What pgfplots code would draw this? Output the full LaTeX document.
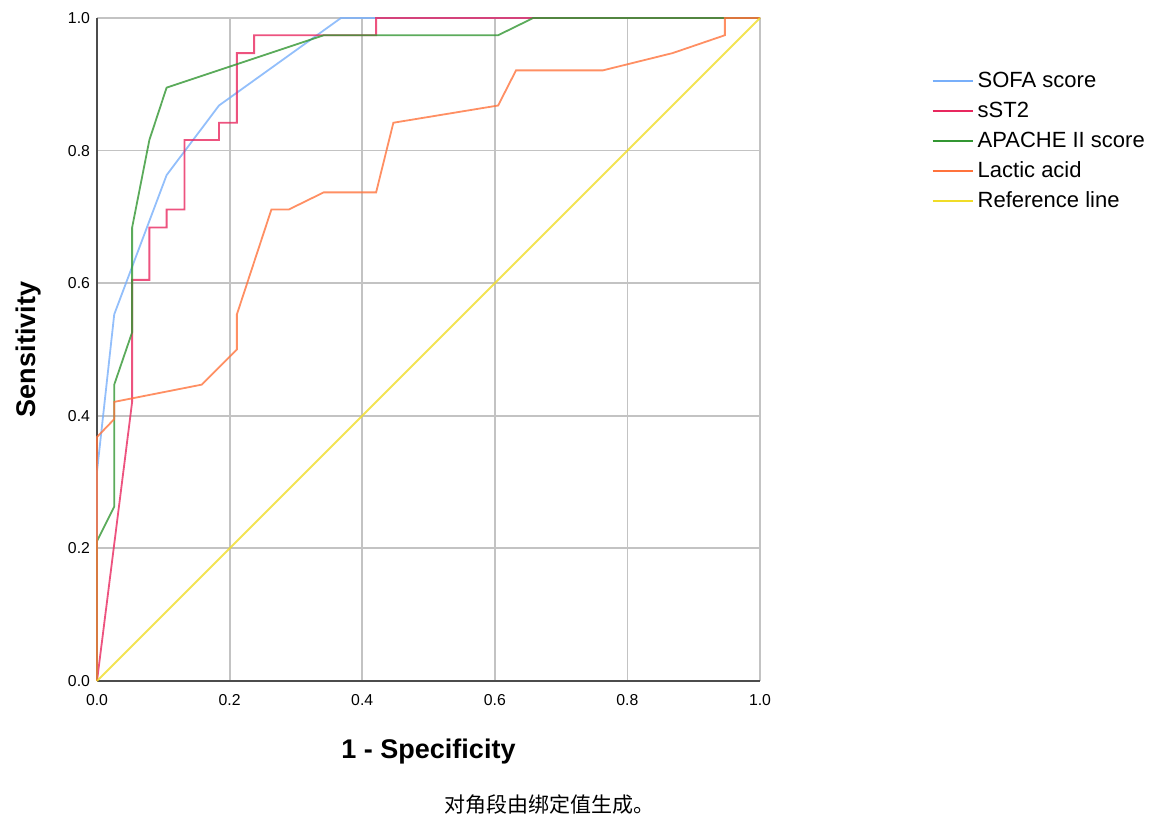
\documentclass[border=0pt]{standalone}
\usepackage{fontspec}
\setmainfont{Liberation Sans}
\newfontfamily\cjk{Noto Sans CJK SC}
\usepackage{pgfplots}
\pgfplotsset{compat=1.18}

\definecolor{sofa}{RGB}{120,175,250}
\definecolor{sst}{RGB}{232,40,95}
\definecolor{apache}{RGB}{50,150,50}
\definecolor{lactic}{RGB}{255,115,60}
\definecolor{refl}{RGB}{240,220,40}
\definecolor{gridc}{RGB}{195,195,195}

\begin{document}
\begin{tikzpicture}
\useasboundingbox (-48.5pt,-71pt) rectangle (536.5pt,340.5pt);
\begin{axis}[
    width=331.5pt, height=331.5pt, scale only axis,
    xmin=0, xmax=1, ymin=0, ymax=1,
    xtick={0,0.2,...,1}, ytick={0,0.2,...,1},
    xticklabel style={yshift=-3pt, /pgf/number format/.cd, fixed, fixed zerofill, precision=1},
    yticklabel style={/pgf/number format/.cd, fixed, fixed zerofill, precision=1},
    /pgf/number format/assume math mode=true,
    ticklabel style={font=\fontsize{7.9}{9}\selectfont},
    tick style={draw=none},
    grid=major,
    grid style={gridc, line width=0.9pt},
    axis line style={gray!60!black, line width=0.9pt},
    axis x line*=bottom, axis y line*=left,
    xlabel={1 - Specificity}, ylabel={Sensitivity},
    label style={font=\fontsize{13.5}{15}\selectfont\bfseries},
    xlabel style={at={(axis description cs:0.5,-0.107)}, anchor=center},
    ylabel style={at={(axis description cs:-0.104,0.5)}, anchor=center},
    legend style={at={(axis description cs:1.249,0.931)}, anchor=north west,
        draw=none, fill=none, font=\fontsize{11}{12}\selectfont,
        row sep=1.7pt, legend cell align=left},
    legend image code/.code={\draw[#1, opacity=1, line width=1.1pt] (0pt,0pt) -- (20pt,0pt);},
    every axis plot/.append style={line width=0.9pt, opacity=0.8},
    clip=false,
]
% SOFA score
\addplot[sofa] coordinates {
(0,0) (0,0.316) (0.026,0.553) (0.105,0.763) (0.184,0.868) (0.368,1) (1,1)
};
\addlegendentry{SOFA score}
% sST2
\addplot[sst] coordinates {
(0,0) (0.053,0.421) (0.053,0.605) (0.079,0.605) (0.079,0.684) (0.105,0.684)
(0.105,0.711) (0.132,0.711) (0.132,0.816) (0.184,0.816) (0.184,0.842)
(0.211,0.842) (0.211,0.947) (0.237,0.947) (0.237,0.974) (0.421,0.974)
(0.421,1) (1,1)
};
\addlegendentry{sST2}
% APACHE II score
\addplot[apache] coordinates {
(0,0) (0,0.211) (0.026,0.263) (0.026,0.447) (0.053,0.526) (0.053,0.684)
(0.079,0.816) (0.105,0.895) (0.342,0.974) (0.605,0.974) (0.658,1) (1,1)
};
\addlegendentry{APACHE II score}
% Lactic acid
\addplot[lactic] coordinates {
(0,0) (0,0.368) (0.026,0.395) (0.026,0.421) (0.158,0.447) (0.211,0.5)
(0.211,0.553) (0.263,0.711) (0.289,0.711) (0.342,0.737) (0.421,0.737)
(0.447,0.842) (0.605,0.868) (0.632,0.921) (0.763,0.921) (0.868,0.947)
(0.947,0.974) (0.947,1) (1,1)
};
\addlegendentry{Lactic acid}
% Reference line
\addplot[refl] coordinates {(0,0) (1,1)};
\addlegendentry{Reference line}

\node[font=\cjk\fontsize{10.5}{12}\selectfont] at (rel axis cs:0.682,-0.187) {对角段由绑定值生成。};
\end{axis}
\end{tikzpicture}
\end{document}
